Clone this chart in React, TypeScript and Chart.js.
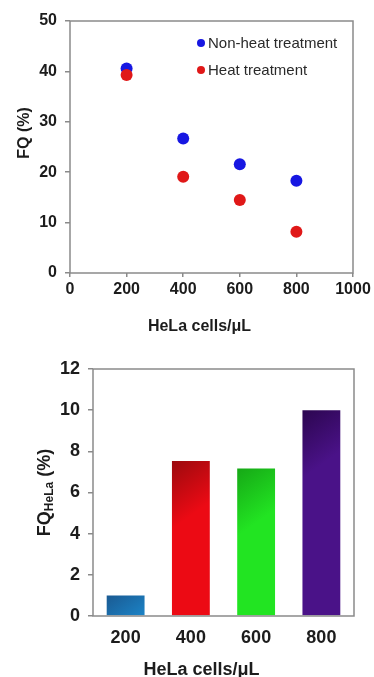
import React, { useEffect, useRef } from 'react';
import { Chart, registerables } from 'chart.js';
Chart.register(...registerables);

// ---- data ----
const cellCounts = [200, 400, 600, 800];
const nonHeatFQ = [40.6, 26.7, 21.6, 18.3];
const heatFQ = [39.3, 19.1, 14.5, 8.2];
const seriesLabels = ['Non-heat treatment', 'Heat treatment'];
const barCategories = ['200', '400', '600', '800'];
const fqHeLa = [1.0, 7.53, 7.17, 10.0];
const xTitle = 'HeLa cells/μL';
const topYTitle = 'FQ (%)';
const bottomYTitleParts: [string, boolean][] = [['FQ', false], ['HeLa', true], [' (%)', false]];

// ---- styles ----
const AXIS = '#8a8a8a';
const TEXT = '#1c1c1c';
const FAMILY = '"Liberation Sans", Arial, Helvetica, sans-serif';
const bold = (size: number) => ({ family: FAMILY, size, weight: 'bold' as const });
const barColors = [
  ['#1a5a92', '#1c96de'],
  ['#9c0a0e', '#ec0a14'],
  ['#16a816', '#22e422'],
  ['#2c0650', '#4a1288'],
];

const topDecor = {
  id: 'topDecor',
  afterDraw(chart: any) {
    const { ctx, chartArea: a } = chart;
    ctx.save();
    ctx.strokeStyle = AXIS;
    ctx.lineWidth = 1.5;
    ctx.strokeRect(a.left, a.top, a.right - a.left, a.bottom - a.top);
    // legend inside plot
    ctx.font = `15px ${FAMILY}`;
    ctx.textBaseline = 'middle';
    ctx.textAlign = 'left';
    chart.data.datasets.forEach((ds: any, i: number) => {
      const x = a.right - 152;
      const y = a.top + 22 + i * 27;
      ctx.fillStyle = ds.backgroundColor;
      ctx.beginPath();
      ctx.arc(x, y, 4, 0, Math.PI * 2);
      ctx.fill();
      ctx.fillStyle = '#2a2a2a';
      ctx.fillText(ds.label, x + 7, y + 1);
    });
    // axis titles
    ctx.fillStyle = TEXT;
    ctx.font = `bold 16px ${FAMILY}`;
    ctx.textAlign = 'center';
    ctx.fillText(xTitle, (a.left + a.right) / 2 - 12, a.bottom + 54);
    ctx.translate(a.left - 45, (a.top + a.bottom) / 2 - 14);
    ctx.rotate(-Math.PI / 2);
    ctx.fillText(topYTitle, 0, 0);
    ctx.restore();
  },
};

const bottomDecor = {
  id: 'bottomDecor',
  afterDraw(chart: any) {
    const { ctx, chartArea: a } = chart;
    ctx.save();
    ctx.strokeStyle = AXIS;
    ctx.lineWidth = 1.5;
    ctx.strokeRect(a.left, a.top, a.right - a.left, a.bottom - a.top);
    ctx.fillStyle = TEXT;
    ctx.textBaseline = 'middle';
    ctx.textAlign = 'center';
    ctx.font = `bold 18px ${FAMILY}`;
    ctx.fillText(xTitle, (a.left + a.right) / 2 - 22, a.bottom + 54);
    // rotated y title with subscript
    const mainFont = `bold 18px ${FAMILY}`;
    const subFont = `bold 12px ${FAMILY}`;
    let total = 0;
    const widths = bottomYTitleParts.map(([t, sub]) => {
      ctx.font = sub ? subFont : mainFont;
      const w = ctx.measureText(t).width;
      total += w;
      return w;
    });
    ctx.translate(a.left - 48, (a.top + a.bottom) / 2);
    ctx.rotate(-Math.PI / 2);
    ctx.textAlign = 'left';
    let x = -total / 2;
    bottomYTitleParts.forEach(([t, sub], i) => {
      ctx.font = sub ? subFont : mainFont;
      ctx.fillText(t, x, sub ? 5 : 0);
      x += widths[i];
    });
    ctx.restore();
  },
};

export default function App() {
  const topRef = useRef<HTMLCanvasElement>(null);
  const botRef = useRef<HTMLCanvasElement>(null);

  useEffect(() => {
    const tickGrid = (len: number) => ({
      drawOnChartArea: false,
      drawTicks: true,
      tickLength: len,
      color: AXIS,
      lineWidth: 1.5,
    });

    const c1 = new Chart(topRef.current as HTMLCanvasElement, {
      type: 'scatter',
      data: {
        datasets: [
          {
            label: seriesLabels[0],
            data: cellCounts.map((x, i) => ({ x, y: nonHeatFQ[i] })),
            backgroundColor: '#1717e2',
            borderWidth: 0,
            pointRadius: 6,
            pointHoverRadius: 6,
            order: 1,
          },
          {
            label: seriesLabels[1],
            data: cellCounts.map((x, i) => ({ x, y: heatFQ[i] })),
            backgroundColor: '#e01818',
            borderWidth: 0,
            pointRadius: 6,
            pointHoverRadius: 6,
            order: 0,
          },
        ],
      },
      options: {
        responsive: false,
        animation: false,
        devicePixelRatio: 1,
        layout: { padding: { top: 21, right: 21, left: 0, bottom: 0 } },
        plugins: { legend: { display: false }, tooltip: { enabled: false } },
        scales: {
          x: {
            type: 'linear',
            min: 0,
            max: 1000,
            ticks: {
              stepSize: 200,
              color: TEXT,
              font: bold(16),
              padding: 3,
              callback: (v: any) => String(v),
            },
            grid: tickGrid(4),
            border: { display: false },
            afterFit: (s: any) => { s.height = 67; },
          },
          y: {
            min: 0,
            max: 50,
            ticks: { stepSize: 10, color: TEXT, font: bold(16), padding: 8 },
            grid: tickGrid(5),
            border: { display: false },
            afterFit: (s: any) => { s.width = 70; },
          },
        },
      },
      plugins: [topDecor],
    } as any);

    const c2 = new Chart(botRef.current as HTMLCanvasElement, {
      type: 'bar',
      data: {
        labels: barCategories,
        datasets: [
          {
            label: 'FQHeLa',
            data: fqHeLa,
            borderWidth: 0,
            categoryPercentage: 1,
            barPercentage: 0.58,
            backgroundColor: (ctx: any) => {
              const [dark, base] = barColors[ctx.dataIndex % barColors.length];
              const chart = ctx.chart;
              const a = chart.chartArea;
              if (!a || ctx.type !== 'data' || !chart.scales.x) return base;
              const xs = chart.scales.x;
              const ys = chart.scales.y;
              const cx = xs.getPixelForValue(ctx.dataIndex);
              const half = (xs.width / barCategories.length) * 0.29;
              const top = ys.getPixelForValue(ctx.raw);
              const g = chart.ctx.createLinearGradient(cx - half, top, cx + half * 0.7, top + half * 2.4);
              g.addColorStop(0, dark);
              g.addColorStop(1, base);
              return g;
            },
          },
        ],
      },
      options: {
        responsive: false,
        animation: false,
        devicePixelRatio: 1,
        layout: { padding: { top: 29, right: 20, left: 0, bottom: 0 } },
        plugins: { legend: { display: false }, tooltip: { enabled: false } },
        scales: {
          x: {
            ticks: { color: TEXT, font: bold(18), padding: 11 },
            grid: { display: false, drawTicks: false },
            border: { display: false },
            afterFit: (s: any) => { s.height = 61; },
          },
          y: {
            min: 0,
            max: 12,
            ticks: { stepSize: 2, color: TEXT, font: bold(18), padding: 8 },
            grid: tickGrid(5),
            border: { display: false },
            afterFit: (s: any) => { s.width = 93; },
          },
        },
      },
      plugins: [bottomDecor],
    } as any);

    return () => {
      c1.destroy();
      c2.destroy();
    };
  }, []);

  return (
    <div
      style={{
        position: 'absolute',
        left: 0,
        top: 0,
        width: 374,
        height: 677,
        background: '#fff',
        overflow: 'hidden',
      }}
    >
      <canvas
        ref={topRef}
        width={374}
        height={340}
        style={{ position: 'absolute', left: 0, top: 0, width: 374, height: 340 }}
      />
      <canvas
        ref={botRef}
        width={374}
        height={337}
        style={{ position: 'absolute', left: 0, top: 340, width: 374, height: 337 }}
      />
    </div>
  );
}
